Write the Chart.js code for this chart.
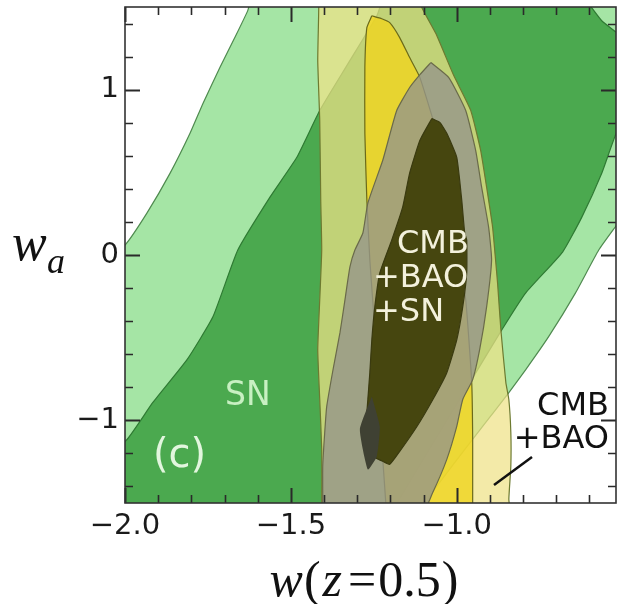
<!DOCTYPE html>
<html>
<head>
<meta charset="utf-8">
<script src="https://cdn.jsdelivr.net/npm/chart.js@4.4.1/dist/chart.umd.min.js"></script>
<style>
  html, body { margin: 0; padding: 0; background: #fff; }
  #wrap { position: relative; width: 619px; height: 604px; }
</style>
</head>
<body>
<div id="wrap"><canvas id="chart"></canvas></div>
<script>
// axis ticks
const xMajorTicks = [-2.0, -1.5, -1.0];
const xTickLabels = ['−2.0', '−1.5', '−1.0'];
const xMinorTicks = [-1.9, -1.8, -1.7, -1.6, -1.4, -1.3, -1.2, -1.1, -0.9, -0.8, -0.7, -0.6];
const yMajorTicks = [-1, 0, 1];
const yTickLabels = ['−1', '0', '1'];
const yMinorTicks = [-1.4, -1.2, -0.8, -0.6, -0.4, -0.2, 0.2, 0.4, 0.6, 0.8, 1.2, 1.4];

// SN only, outer (95%) contour, as [w, wa]
const snOuter = [
  [-2.10, -0.10], [-2.000, 0.060], [-1.934, 0.253], [-1.864, 0.495], [-1.804, 0.736],
  [-1.765, 0.917], [-1.714, 1.134], [-1.669, 1.315], [-1.630, 1.478], [-1.60, 1.65],
  [-0.30, 1.65], [-0.30, 0.60], [-0.45, 0.37], [-0.518, 0.181], [-0.572, 0.030],
  [-0.642, -0.229], [-0.723, -0.494], [-0.792, -0.693], [-0.843, -0.832],
  [-1.084, -1.465], [-1.12, -1.65], [-2.10, -1.65]
];

// SN only, inner (68%) contour
const snInner = [
  [-2.10, -1.30], [-1.994, -1.116], [-1.916, -0.892], [-1.813, -0.633], [-1.735, -0.374],
  [-1.660, 0.030], [-1.563, 0.350], [-1.482, 0.591], [-1.413, 0.874], [-1.33, 1.15],
  [-1.24, 1.45], [-1.20, 1.65], [-0.65, 1.65], [-0.593, 1.495], [-0.563, 1.417],
  [-0.518, 1.345], [-0.45, 1.22], [-0.44, 0.95], [-0.512, 0.772], [-0.563, 0.494],
  [-0.623, 0.229], [-0.681, 0.018], [-0.792, -0.229], [-0.864, -0.452], [-0.955, -0.754],
  [-1.178, -1.496], [-1.21, -1.65], [-2.10, -1.65]
];

// CMB + BAO, outer contour
const cmbBaoOuter = [
  [-1.418, 1.65], [-1.416, 1.496], [-1.419, 1.176], [-1.413, 0.814], [-1.410, 0.332],
  [-1.407, 0.030], [-1.413, -0.271], [-1.419, -0.573], [-1.413, -0.874], [-1.407, -1.176],
  [-1.407, -1.496], [-1.407, -1.65], [-0.84, -1.65], [-0.843, -1.477], [-0.837, -1.278],
  [-0.837, -1.073], [-0.843, -0.874], [-0.852, -0.772], [-0.867, -0.452], [-0.877, -0.169],
  [-0.883, -0.030], [-0.892, 0.169], [-0.910, 0.410], [-0.928, 0.633], [-0.958, 0.875],
  [-1.009, 1.085], [-1.063, 1.339], [-1.105, 1.495], [-1.13, 1.65]
];

// CMB + BAO, inner contour
const cmbBaoInner = [
  [-1.256, 1.447], [-1.271, 1.375], [-1.277, 1.134], [-1.277, 0.736], [-1.271, 0.332],
  [-1.262, -0.030], [-1.247, -0.452], [-1.235, -0.875], [-1.223, -1.236], [-1.214, -1.496],
  [-1.21, -1.65], [-0.95, -1.65], [-0.952, -1.496], [-0.952, -1.116], [-0.955, -0.766],
  [-0.973, -0.271], [-1.003, 0.151], [-1.045, 0.633], [-1.111, 1.073], [-1.142, 1.194],
  [-1.172, 1.315], [-1.202, 1.405], [-1.226, 1.429]
];

// CMB + BAO + SN, outer contour
const allOuter = [
  [-1.078, 1.164], [-1.024, 1.073], [-0.973, 0.874], [-0.943, 0.633], [-0.925, 0.410],
  [-0.904, 0.169], [-0.895, -0.030], [-0.910, -0.314], [-0.931, -0.573], [-0.952, -0.754],
  [-0.982, -0.874], [-1.000, -1.037], [-1.030, -1.236], [-1.072, -1.435], [-1.127, -1.65],
  [-1.404, -1.65], [-1.404, -1.478], [-1.404, -1.278], [-1.398, -1.074], [-1.392, -0.917],
  [-1.373, -0.694], [-1.352, -0.470], [-1.337, -0.271], [-1.322, -0.072], [-1.307, 0.030],
  [-1.283, 0.133], [-1.268, 0.314], [-1.223, 0.573], [-1.181, 0.874], [-1.142, 1.013],
  [-1.111, 1.091]
];

// CMB + BAO + SN, inner contour
const allInner = [
  [-1.075, 0.826], [-1.111, 0.694], [-1.142, 0.495], [-1.163, 0.289], [-1.196, 0.090],
  [-1.232, -0.109], [-1.247, -0.314], [-1.256, -0.513], [-1.262, -0.712], [-1.268, -0.874],
  [-1.274, -1.055], [-1.262, -1.206], [-1.223, -1.248], [-1.202, -1.266], [-1.172, -1.188],
  [-1.120, -1.037], [-1.072, -0.874], [-1.030, -0.712], [-1.000, -0.513], [-0.982, -0.314],
  [-0.970, -0.109], [-0.970, 0.090], [-0.976, 0.133], [-0.985, 0.332], [-1.000, 0.591],
  [-1.030, 0.736], [-1.051, 0.802]
];

// darker patch at the lower left of the inner contour
const allInnerPatch = [
  [-1.256, -0.856], [-1.292, -1.055], [-1.268, -1.297], [-1.241, -1.218], [-1.232, -1.037]
];

// bottom layer first
const layers = [
  { label: 'SN 95%', data: snOuter, fill: '#a5e5a5', line: '#4f8a4f' },
  { label: 'SN 68%', data: snInner, fill: '#4ba94f', line: '#2f7a33' },
  { label: 'CMB+BAO 95%', data: cmbBaoOuter, fill: 'rgba(238,226,134,0.72)', line: '#6d7a30' },
  { label: 'CMB+BAO 68%', data: cmbBaoInner, fill: 'rgba(240,212,30,0.8)', line: '#6b6a1a' },
  { label: 'CMB+BAO+SN 95%', data: allOuter, fill: 'rgba(150,150,138,0.8)', line: '#6a6a4a' },
  { label: 'CMB+BAO+SN 68%', data: allInner, fill: '#46460f', line: '#3a3a10' },
  { label: 'patch', data: allInnerPatch, fill: '#3f4133', line: 'rgba(0,0,0,0)' }
];

const toPoints = pairs => {
  const pts = pairs.map(([x, y]) => ({ x, y }));
  pts.push({ ...pts[0] }); // close the outline
  return pts;
};

const frameTicks = {
  id: 'frameTicks',
  afterDatasetsDraw(chart) {
    const { ctx, chartArea: a, scales: { x, y } } = chart;
    ctx.save();
    ctx.strokeStyle = '#2a2a2a';
    const xMarks = (vals, len, w) => {
      ctx.lineWidth = w;
      ctx.beginPath();
      vals.forEach(v => {
        const px = Math.round(x.getPixelForValue(v)) + 0.5;
        ctx.moveTo(px, a.bottom); ctx.lineTo(px, a.bottom - len);
        ctx.moveTo(px, a.top); ctx.lineTo(px, a.top + len);
      });
      ctx.stroke();
    };
    const yMarks = (vals, len, w) => {
      ctx.lineWidth = w;
      ctx.beginPath();
      vals.forEach(v => {
        const py = Math.round(y.getPixelForValue(v)) + 0.5;
        ctx.moveTo(a.left, py); ctx.lineTo(a.left + len, py);
        ctx.moveTo(a.right, py); ctx.lineTo(a.right - len, py);
      });
      ctx.stroke();
    };
    xMarks(xMajorTicks, 15, 2);
    xMarks(xMinorTicks, 8, 1.6);
    yMarks(yMajorTicks, 15, 2);
    yMarks(yMinorTicks, 8, 1.6);

    ctx.lineWidth = 1.6;
    ctx.strokeStyle = '#333';
    ctx.strokeRect(a.left, a.top, a.right - a.left, a.bottom - a.top);
    ctx.restore();
  },
  afterDraw(chart) {
    const { ctx } = chart;
    ctx.save();
    ctx.textBaseline = 'alphabetic';

    // labels inside the plot
    ctx.font = '33px "DejaVu Sans"';
    ctx.fillStyle = '#c8f0c2';
    ctx.textAlign = 'left';
    ctx.fillText('SN', 225, 405);

    ctx.font = '40px "DejaVu Sans"';
    ctx.fillStyle = '#e2f6de';
    ctx.fillText('(c)', 153, 467);

    ctx.font = '32px "DejaVu Sans"';
    ctx.fillStyle = '#f3f1dc';
    ctx.fillText('CMB', 397, 253);
    ctx.fillText('+BAO', 373, 287);
    ctx.fillText('+SN', 373, 321);

    ctx.fillStyle = '#111';
    ctx.textAlign = 'right';
    ctx.fillText('CMB', 609, 415);
    ctx.fillText('+BAO', 609, 448);

    ctx.strokeStyle = '#111';
    ctx.lineWidth = 2.5;
    ctx.beginPath();
    ctx.moveTo(532, 457);
    ctx.lineTo(494, 485);
    ctx.stroke();

    // y title: w_a
    ctx.textAlign = 'left';
    ctx.fillStyle = '#111';
    ctx.font = 'italic 52px "Liberation Serif"';
    ctx.fillText('w', 12, 260);
    ctx.font = 'italic 36px "Liberation Serif"';
    ctx.fillText('a', 47, 273);

    // x title: w(z=0.5)
    const parts = [
      { t: 'w', f: 'italic 50px "Liberation Serif"', gap: 1 },
      { t: '(', f: '50px "Liberation Serif"', gap: 2 },
      { t: 'z', f: 'italic 50px "Liberation Serif"', gap: 6 },
      { t: '=', f: '50px "Liberation Serif"', gap: 2 },
      { t: '0.5', f: '50px "Liberation Serif"', gap: 1 },
      { t: ')', f: '50px "Liberation Serif"', gap: 0 }
    ];
    let total = 0;
    parts.forEach(p => { ctx.font = p.f; p.w = ctx.measureText(p.t).width; total += p.w + p.gap; });
    let cx = 364 - total / 2;
    parts.forEach(p => { ctx.font = p.f; ctx.fillText(p.t, cx, 596); cx += p.w + p.gap; });
    ctx.restore();
  }
};

new Chart(document.getElementById('chart'), {
  type: 'line',
  data: {
    datasets: layers.map((l, i) => ({
      label: l.label,
      data: toPoints(l.data),
      backgroundColor: l.fill,
      borderColor: l.line,
      borderWidth: 1.2,
      fill: 'shape',
      pointRadius: 0,
      tension: 0.15,
      order: layers.length - i,
      clip: 0
    }))
  },
  options: {
    responsive: true,
    maintainAspectRatio: false,
    animation: false,
    events: [],
    layout: { padding: { top: 7, right: 3, left: 0, bottom: 0 } },
    plugins: {
      legend: { display: false },
      tooltip: { enabled: false },
      filler: { propagate: false }
    },
    scales: {
      x: {
        type: 'linear',
        min: -2.0,
        max: -0.52,
        grid: { display: false, drawTicks: false },
        border: { display: false },
        afterBuildTicks: scale => { scale.ticks = xMajorTicks.map(v => ({ value: v })); },
        afterFit: scale => {
          scale.height = 101;
          scale.paddingLeft = 0;
          scale.paddingRight = 0;
        },
        ticks: {
          autoSkip: false,
          maxRotation: 0,
          padding: 6,
          color: '#1a1a1a',
          font: { family: 'DejaVu Sans', size: 29 },
          callback: value => xTickLabels[xMajorTicks.indexOf(value)]
        }
      },
      y: {
        type: 'linear',
        min: -1.5,
        max: 1.5,
        grid: { display: false, drawTicks: false },
        border: { display: false },
        afterBuildTicks: scale => { scale.ticks = yMajorTicks.map(v => ({ value: v })); },
        afterFit: scale => {
          scale.width = 125;
          scale.paddingTop = 0;
          scale.paddingBottom = 0;
        },
        ticks: {
          autoSkip: false,
          padding: 6,
          color: '#1a1a1a',
          font: { family: 'DejaVu Sans', size: 29 },
          callback: value => yTickLabels[yMajorTicks.indexOf(value)]
        }
      }
    }
  },
  plugins: [frameTicks]
});
</script>
</body>
</html>
